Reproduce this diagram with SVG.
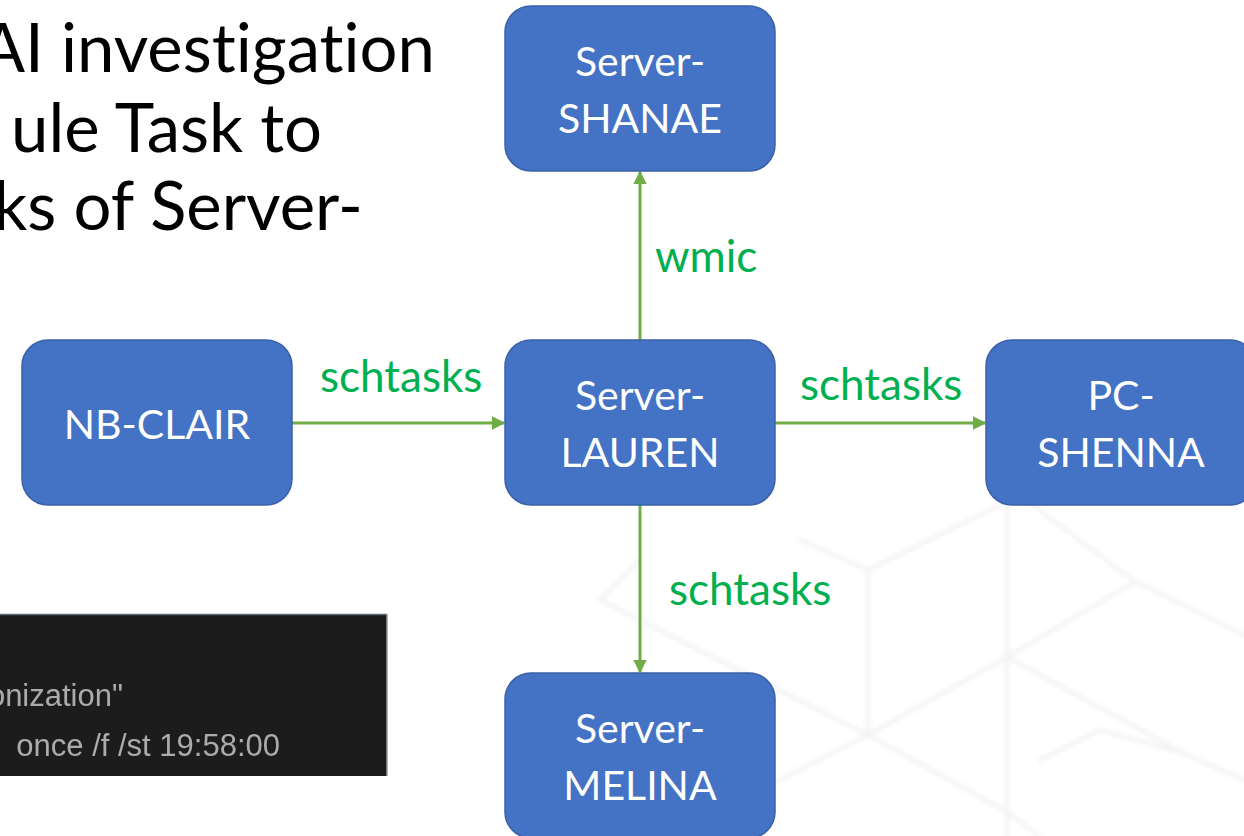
<svg xmlns="http://www.w3.org/2000/svg" width="1244" height="836" viewBox="0 0 1244 836">
  <style>
    text { font-variant-ligatures: none; }
    .node rect { fill: #4472C4; stroke: #3A62A8; stroke-width: 1.5; }
    .node text { fill: #FFFFFF; font-family: Lato, "Open Sans", sans-serif; font-size: 41px; text-anchor: middle; }
    .edge { stroke: #70AD47; stroke-width: 3; fill: none; marker-end: url(#arrow); }
    .elabel { fill: #00B050; font-family: Lato, "Open Sans", sans-serif; font-size: 44px; }
    .title { fill: #000000; font-family: Lato, "Open Sans", sans-serif; font-size: 67px; text-anchor: end; }
    .term { fill: #ABABAB; font-family: "Liberation Sans", Arial, sans-serif; font-size: 31px; }
    .bg line { stroke: #F3F3F3; stroke-width: 4; stroke-linecap: round; }
  </style>
  <defs>
    <marker id="arrow" viewBox="0 0 10 10" refX="9" refY="5" markerWidth="4.5" markerHeight="4.5" orient="auto" markerUnits="strokeWidth">
      <path d="M0,0 L10,5 L0,10 Z" fill="#70AD47"/>
    </marker>
    <filter id="soft" x="-5%" y="-5%" width="110%" height="110%">
      <feGaussianBlur stdDeviation="2"/>
    </filter>
    <filter id="termblur">
      <feGaussianBlur stdDeviation="0.6"/>
    </filter>
  </defs>

  <rect width="1244" height="836" fill="#FFFFFF"/>

  <!-- faint cube pattern behind the slide -->
  <g class="bg" filter="url(#soft)">
    <line x1="800" y1="540" x2="868" y2="570"/>
    <line x1="868" y1="570" x2="1000" y2="505"/>
    <line x1="868" y1="570" x2="868" y2="735"/>
    <line x1="600" y1="600" x2="868" y2="735"/>
    <line x1="868" y1="735" x2="1007" y2="657"/>
    <line x1="868" y1="735" x2="1007" y2="812"/>
    <line x1="740" y1="800" x2="868" y2="735"/>
    <line x1="1007" y1="505" x2="1007" y2="836"/>
    <line x1="1033" y1="505" x2="1133" y2="580"/>
    <line x1="1007" y1="657" x2="1133" y2="583"/>
    <line x1="1133" y1="580" x2="1244" y2="635"/>
    <line x1="1007" y1="657" x2="1183" y2="753"/>
    <line x1="1183" y1="753" x2="1244" y2="780"/>
    <line x1="1040" y1="760" x2="1100" y2="730"/>
    <line x1="1100" y1="730" x2="1183" y2="753"/>
    <line x1="1007" y1="812" x2="1040" y2="836"/>
    <line x1="640" y1="560" x2="600" y2="600"/>
  </g>

  <!-- partially visible slide title -->
  <g id="title">
    <text class="title" x="435" y="72">AI investigation</text>
    <text class="title" x="322" y="152">ule Task to</text>
    <text class="title" x="363" y="230">ks of Server-</text>
  </g>

  <!-- terminal screenshot -->
  <g id="terminal">
    <rect x="0" y="614" width="387" height="162" fill="#1C1C1C"/>
    <line x1="0" y1="614.5" x2="387" y2="614.5" stroke="#5C6A7E" stroke-width="1.5"/>
    <line x1="387" y1="614" x2="387" y2="776" stroke="#9A9A9A" stroke-width="1.5"/>
    <g filter="url(#termblur)">
      <text class="term" x="123" y="706" text-anchor="end">onization"</text>
      <text class="term" x="280" y="756" text-anchor="end">once /f /st 19:58:00</text>
    </g>
  </g>

  <!-- connectors -->
  <g id="connectors">
    <line class="edge" x1="292" y1="423" x2="504" y2="423"/>
    <line class="edge" x1="775" y1="423" x2="985" y2="423"/>
    <line class="edge" x1="640" y1="340" x2="640" y2="172"/>
    <line class="edge" x1="640" y1="505" x2="640" y2="672"/>
    <text class="elabel" x="320" y="392">schtasks</text>
    <text class="elabel" x="800" y="400">schtasks</text>
    <text class="elabel" x="655" y="272">wmic</text>
    <text class="elabel" x="669" y="605">schtasks</text>
  </g>

  <!-- nodes -->
  <g id="server-shanae" class="node">
    <rect x="505" y="6" width="270" height="165" rx="26"/>
    <text x="640" y="76">Server-</text>
    <text x="640" y="133">SHANAE</text>
  </g>
  <g id="nb-clair" class="node">
    <rect x="22" y="340" width="270" height="165" rx="26"/>
    <text x="157" y="439">NB-CLAIR</text>
  </g>
  <g id="server-lauren" class="node">
    <rect x="505" y="340" width="270" height="165" rx="26"/>
    <text x="640" y="410">Server-</text>
    <text x="640" y="467">LAUREN</text>
  </g>
  <g id="pc-shenna" class="node">
    <rect x="986" y="340" width="270" height="165" rx="26"/>
    <text x="1121" y="410">PC-</text>
    <text x="1121" y="467">SHENNA</text>
  </g>
  <g id="server-melina" class="node">
    <rect x="505" y="673" width="270" height="165" rx="26"/>
    <text x="640" y="743">Server-</text>
    <text x="640" y="800">MELINA</text>
  </g>
</svg>
